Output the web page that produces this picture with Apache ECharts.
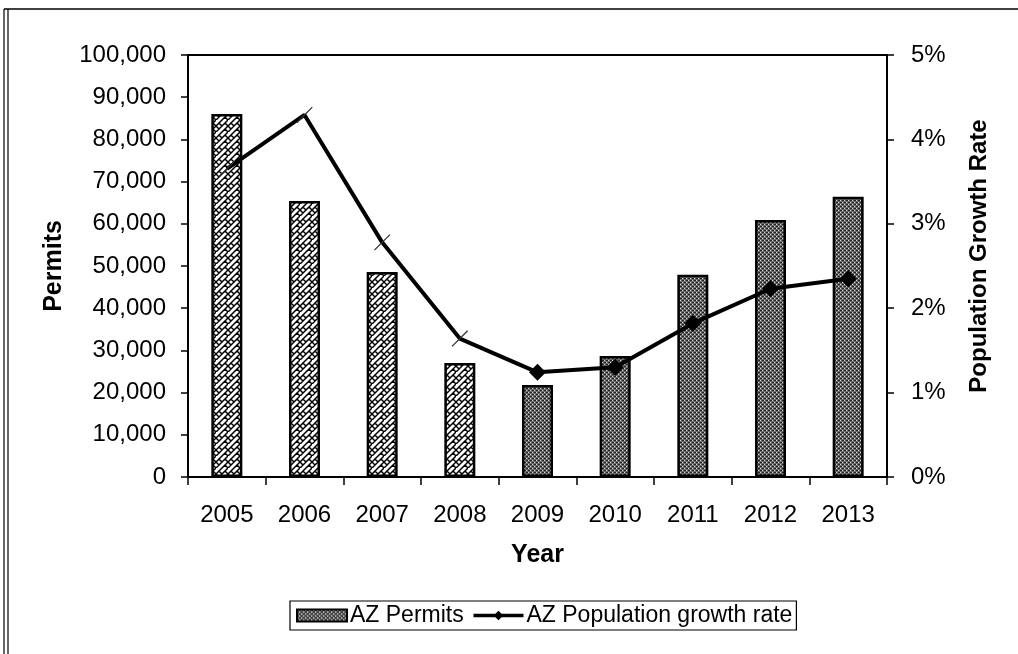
<!DOCTYPE html>
<html>
<head>
<meta charset="utf-8">
<script src="https://cdn.jsdelivr.net/npm/echarts@6/dist/echarts.min.js"></script>
<style>
html,body{margin:0;padding:0;background:#fff;}
#c{width:1018px;height:654px;}
</style>
</head>
<body>
<div id="c"></div>
<script>
const years = ['2005','2006','2007','2008','2009','2010','2011','2012','2013'];
const permits = [86000, 65400, 48600, 27000, 21800, 28700, 47900, 60900, 66400];
const growthRate = [3.65, 4.29, 2.78, 1.64, 1.24, 1.30, 1.82, 2.23, 2.35];
const permitTicks = [0, 10000, 20000, 30000, 40000, 50000, 60000, 70000, 80000, 90000, 100000];
const rateTicks = [0, 1, 2, 3, 4, 5];
const seriesNames = ['AZ Permits', 'AZ Population growth rate'];
const axisNames = ['Year', 'Permits', 'Population Growth Rate'];

const FONT = 'Liberation Sans, Arial, sans-serif';
const firstPhaseCount = 4;

function brickPattern() {
  const c = document.createElement('canvas');
  c.width = 12; c.height = 12;
  const g = c.getContext('2d');
  g.fillStyle = '#fff'; g.fillRect(0, 0, 12, 12);
  g.strokeStyle = '#000'; g.lineWidth = 1.5;
  g.beginPath();
  g.moveTo(-1, 13); g.lineTo(13, -1);
  g.moveTo(-1, 7); g.lineTo(7, -1);
  g.moveTo(5, 13); g.lineTo(13, 5);
  g.moveTo(3, 3); g.lineTo(6, 6);
  g.moveTo(9, 9); g.lineTo(12, 12);
  g.moveTo(0, 6); g.lineTo(-3, 3);
  g.moveTo(9, 3); g.lineTo(12, 6);
  g.moveTo(3, 9); g.lineTo(0, 6);
  g.stroke();
  return c;
}
function dotPattern() {
  const c = document.createElement('canvas');
  c.width = 4; c.height = 4;
  const g = c.getContext('2d');
  g.fillStyle = '#6a6a6a'; g.fillRect(0, 0, 4, 4);
  g.fillStyle = '#d8d8d8';
  g.fillRect(0, 0, 1, 1); g.fillRect(2, 2, 1, 1);
  g.fillStyle = '#222';
  g.fillRect(1, 2, 1, 1); g.fillRect(3, 0, 1, 1);
  g.fillRect(2, 0, 1, 1); g.fillRect(0, 2, 1, 1);
  return c;
}
const brick = { image: brickPattern(), repeat: 'repeat' };
const dots = { image: dotPattern(), repeat: 'repeat' };

const barData = permits.map((v, i) => i < firstPhaseCount
  ? { value: v, itemStyle: { color: brick } }
  : { value: v });
const lineData = growthRate.map((v, i) => i < firstPhaseCount
  ? { value: v, symbol: 'rect', symbolSize: [1.3, 22], symbolRotate: -45, itemStyle: { color: '#333' } }
  : { value: v });

const chart = echarts.init(document.getElementById('c'), null, { renderer: 'canvas' });
chart.setOption({
  animation: false,
  backgroundColor: '#fff',
  textStyle: { fontFamily: FONT, color: '#000' },
  graphic: [
    { type: 'line', shape: { x1: 4, y1: 9, x2: 1018, y2: 9 }, style: { stroke: '#000', lineWidth: 1.5 } },
    { type: 'line', shape: { x1: 4, y1: 9, x2: 4, y2: 654 }, style: { stroke: '#000', lineWidth: 1.2 } },
    { type: 'line', shape: { x1: 8, y1: 9, x2: 8, y2: 654 }, style: { stroke: '#000', lineWidth: 1.2 } }
  ],
  grid: {
    left: 188, right: 131, top: 55, bottom: 177,
    show: true, borderColor: '#000', borderWidth: 2, backgroundColor: 'transparent'
  },
  legend: {
    left: 290, top: 601,
    itemWidth: 50, itemHeight: 12, itemGap: 8,
    padding: [3, 4, 3, 6],
    borderColor: '#000', borderWidth: 1.2, borderRadius: 0,
    textStyle: { fontFamily: FONT, fontSize: 23, color: '#000', padding: [0, 0, 0, -2] },
    data: [
      { name: seriesNames[0], icon: 'rect' },
      { name: seriesNames[1], lineStyle: { width: 3.5, color: '#000' } }
    ]
  },
  xAxis: {
    type: 'category',
    data: years,
    boundaryGap: true,
    name: axisNames[0],
    nameLocation: 'middle',
    nameGap: 66,
    nameTextStyle: { fontFamily: FONT, fontSize: 25, fontWeight: 'bold', color: '#000' },
    axisLine: { lineStyle: { color: '#000', width: 2 } },
    axisTick: { show: true, alignWithLabel: false, length: 8, lineStyle: { color: '#000', width: 1.5 } },
    axisLabel: { fontFamily: FONT, fontSize: 24, color: '#000', margin: 26 },
    splitLine: { show: false }
  },
  yAxis: [
    {
      type: 'value', min: 0, max: 100000, interval: 10000,
      name: axisNames[1], nameLocation: 'middle', nameGap: 121,
      nameTextStyle: { fontFamily: FONT, fontSize: 25, fontWeight: 'bold', color: '#000' },
      axisLine: { show: true, lineStyle: { color: '#000', width: 2 } },
      axisTick: { show: true, length: 7, lineStyle: { color: '#000', width: 1.5 } },
      axisLabel: {
        fontFamily: FONT, fontSize: 24, color: '#000', margin: 22,
        formatter: v => permitTicks.includes(v) ? v.toLocaleString('en-US') : ''
      },
      splitLine: { show: false }
    },
    {
      type: 'value', min: 0, max: 5, interval: 1,
      name: axisNames[2], nameLocation: 'middle', nameGap: 80,
      nameRotate: 90,
      nameTextStyle: { fontFamily: FONT, fontSize: 24, fontWeight: 'bold', color: '#000', padding: [0, 0, 0, 20] },
      axisLine: { show: true, lineStyle: { color: '#000', width: 2 } },
      axisTick: { show: true, length: 7, lineStyle: { color: '#000', width: 1.5 } },
      axisLabel: {
        fontFamily: FONT, fontSize: 24, color: '#000', margin: 24,
        formatter: v => rateTicks.includes(v) ? v + '%' : ''
      },
      splitLine: { show: false }
    }
  ],
  series: [
    {
      name: seriesNames[0],
      type: 'bar',
      yAxisIndex: 0,
      barWidth: 31,
      data: barData,
      itemStyle: { color: dots, borderColor: '#000', borderWidth: 2.5 }
    },
    {
      name: seriesNames[1],
      type: 'line',
      yAxisIndex: 1,
      data: lineData,
      symbol: 'diamond',
      symbolSize: 17,
      showAllSymbol: true,
      lineStyle: { color: '#000', width: 4 },
      itemStyle: { color: '#000' },
      z: 5
    }
  ]
});
</script>
</body>
</html>
